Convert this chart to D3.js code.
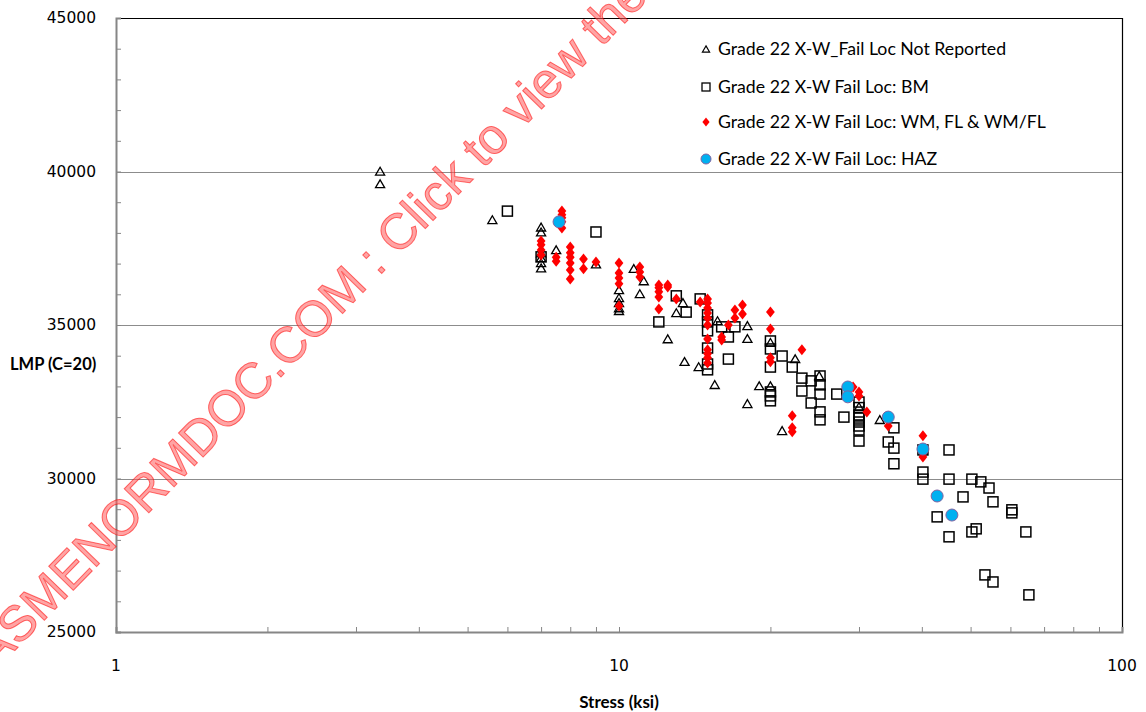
<!DOCTYPE html>
<html>
<head>
<meta charset="utf-8">
<script src="https://cdn.jsdelivr.net/npm/d3@7"></script>
<style>
  html, body { margin: 0; padding: 0; background: #fff; }
  svg { display: block; }
</style>
</head>
<body>
<svg id="chart" width="1146" height="712"></svg>
<script>
// Creep-rupture data, Grade 22 cross-weld specimens: [stress (ksi), LMP (C=20)]
const notReported = [
  [3.35, 40000], [3.35, 39590],
  [5.6, 38420],
  [7.0, 38180], [7.0, 38020], [7.0, 37340], [7.0, 37180], [7.0, 37020], [7.0, 36850],
  [7.5, 37440],
  [9.0, 36980],
  [10.0, 36140], [10.0, 35880], [10.0, 35720], [10.0, 35550], [10.0, 35460],
  [10.7, 36830], [11.2, 36430], [11.0, 36010],
  [13.4, 35720], [13.0, 35390], [12.5, 34540], [13.5, 33800], [14.4, 33630], [15.5, 33050],
  [15.7, 35130], [18.0, 34970], [18.0, 34550], [18.0, 32430], [19.0, 33010],
  [20.0, 33010], [20.0, 34420], [21.1, 31550], [22.4, 33890],
  [25.0, 33340], [30.0, 32330], [33.0, 31910]
];

const baseMetal = [
  [6.0, 38710], [9.0, 38030], [7.0, 37220],
  [12.0, 35100], [13.0, 35950], [13.6, 35420], [14.5, 35850],
  [15.0, 35330], [15.0, 35100], [15.0, 34810], [15.0, 34250], [15.0, 33730], [15.0, 33540],
  [16.0, 34940], [16.5, 34610], [17.0, 34940], [16.5, 33890],
  [20.0, 34480], [20.0, 34220], [20.0, 33630], [20.0, 32820], [20.0, 32690], [20.0, 32530],
  [21.1, 33990], [22.1, 33630], [23.1, 33270], [23.1, 32850], [24.1, 33180], [24.1, 32460],
  [25.1, 33340], [25.1, 33050], [25.1, 32750], [25.1, 32170], [25.1, 31910],
  [27.1, 32750], [28.0, 32000],
  [30.0, 32490], [30.0, 32310], [30.0, 32070], [30.0, 31970], [30.0, 31840], [30.0, 31710], [30.0, 31580], [30.0, 31220],
  [34.3, 31190], [35.2, 31650], [35.2, 30990], [35.2, 30480],
  [40.2, 30930], [40.2, 30210], [40.2, 29980],
  [45.3, 30930], [45.3, 29980], [50.3, 29980], [52.4, 29890], [54.4, 29690], [48.3, 29400], [55.4, 29240],
  [60.4, 28980], [60.4, 28880], [42.9, 28750], [50.3, 28260], [51.3, 28360], [64.4, 28260], [45.3, 28100],
  [53.4, 26860], [55.4, 26630], [65.3, 26210]
];

const weldFusion = [
  [7.7, 38710], [7.7, 38590], [7.7, 38490], [7.7, 38360], [7.7, 38160],
  [7.0, 37740], [7.0, 37610], [7.0, 37440], [7.0, 37280],
  [7.5, 37210], [7.5, 37080],
  [8.0, 37540], [8.0, 37350], [8.0, 37210], [8.0, 37020], [8.0, 36790], [8.0, 36500],
  [8.5, 37150], [8.5, 36830],
  [9.0, 37050],
  [10.0, 37020], [10.0, 36690], [10.0, 36530], [10.0, 36340], [10.0, 35620],
  [11.0, 36890], [11.0, 36730], [11.0, 36560],
  [12.0, 36300], [12.0, 36210], [12.0, 36080], [12.0, 35910], [12.0, 35520],
  [12.5, 36300], [12.5, 36240],
  [13.0, 35850], [14.5, 35750],
  [15.0, 35850], [15.0, 35720], [15.0, 35550], [15.0, 35390], [15.0, 35230], [15.0, 35000],
  [15.0, 34540], [15.0, 34190], [15.0, 34060], [15.0, 33930], [15.0, 33760],
  [16.0, 34610], [16.0, 34510], [16.5, 35000], [17.0, 35490], [17.0, 35230], [17.6, 35650], [17.6, 35360],
  [20.0, 35420], [20.0, 34870], [20.0, 33930], [20.0, 33800],
  [22.1, 32040], [22.1, 31650], [22.1, 31520], [23.1, 34190],
  [29.2, 32980], [30.0, 32820], [30.0, 32690], [31.1, 32170], [34.3, 31710],
  [40.2, 31390], [40.2, 30700]
];

const haz = [
  [7.6, 38360], [28.5, 32980], [28.5, 32660], [34.3, 32000], [40.2, 30960], [42.9, 29430], [45.9, 28810]
];

const seriesLabels = [
  "Grade 22 X-W_Fail Loc Not Reported",
  "Grade 22 X-W Fail Loc: BM",
  "Grade 22 X-W Fail Loc: WM, FL & WM/FL",
  "Grade 22 X-W Fail Loc: HAZ"
];

const xTickValues = [1, 10, 100];
const yTickValues = [25000, 30000, 35000, 40000, 45000];
const xTitle = "Stress (ksi)";
const yTitle = "LMP (C=20)";
const watermark = "ASMENORMDOC.COM : Click to view the full document";

const svg = d3.select("#chart");
const W = 1146, H = 712;
const plot = { left: 116, right: 1122, top: 18, bottom: 632 };

svg.append("rect").attr("width", W).attr("height", H).attr("fill", "#fff");

const x = d3.scaleLog().domain([1, 100]).range([plot.left, plot.right]);
const y = d3.scaleLinear().domain([25000, 45000]).range([plot.bottom, plot.top]);

const tickFont = "'DejaVu Sans', Verdana, sans-serif";
const textFont = "Lato, 'Open Sans', sans-serif";

// horizontal gridlines
svg.append("g")
  .selectAll("line")
  .data([30000, 35000, 40000])
  .join("line")
  .attr("x1", plot.left).attr("x2", plot.right)
  .attr("y1", d => Math.round(y(d)) + 0.5).attr("y2", d => Math.round(y(d)) + 0.5)
  .attr("stroke", "#8c8c8c").attr("stroke-width", 1);

// plot frame: top and right edges
svg.append("path")
  .attr("d", `M${plot.left},${plot.top + 0.5}H${plot.right + 0.5}V${plot.bottom}`)
  .attr("fill", "none").attr("stroke", "#000").attr("stroke-width", 1.2);

// y axis with minor ticks every 1000 pointing into the plot
const yMinor = d3.range(25000, 45001, 1000);
const yAxis = svg.append("g").attr("transform", `translate(${plot.left},0)`);
yAxis.call(d3.axisRight(y).tickValues(yMinor).tickSize(5).tickFormat(""));
yAxis.select(".domain").attr("stroke", "#868686").attr("stroke-width", 2);
yAxis.selectAll(".tick line").attr("stroke", "#868686");
svg.append("g")
  .selectAll("text")
  .data(yTickValues)
  .join("text")
  .attr("x", 96).attr("y", d => y(d) + 5)
  .attr("text-anchor", "end")
  .attr("font-family", tickFont).attr("font-size", 15.5)
  .attr("fill", "#000")
  .text(d => d);

// x axis (log) with minor ticks pointing up into the plot
const xMinor = [];
for (let dec = 1; dec < 100; dec *= 10) for (let k = 1; k < 10; k++) xMinor.push(dec * k);
xMinor.push(100);
const xAxis = svg.append("g").attr("transform", `translate(0,${plot.bottom})`);
xAxis.call(d3.axisTop(x).tickValues(xMinor).tickSize(5).tickFormat(""));
xAxis.select(".domain").attr("stroke", "#868686").attr("stroke-width", 2);
xAxis.selectAll(".tick line").attr("stroke", "#868686");
svg.append("g")
  .selectAll("text")
  .data(xTickValues)
  .join("text")
  .attr("x", d => x(d)).attr("y", plot.bottom + 39)
  .attr("text-anchor", "middle")
  .attr("font-family", tickFont).attr("font-size", 15.5)
  .attr("fill", "#000")
  .text(d => d);

// axis titles
svg.append("text")
  .attr("x", 619).attr("y", 708)
  .attr("text-anchor", "middle")
  .attr("font-family", textFont).attr("font-weight", "bold").attr("font-size", 17)
  .text(xTitle);
svg.append("text")
  .attr("x", 10).attr("y", 370)
  .attr("font-family", textFont).attr("font-weight", "bold").attr("font-size", 16.5)
  .text(yTitle);

// marker shapes
const tri = d3.symbol().type(d3.symbolTriangle).size(36);
const diamond = s => `M0,${-s}L${s * 0.8},0L0,${s}L${-s * 0.8},0Z`;

const marks = svg.append("g");

// not reported: open triangles
marks.append("g")
  .selectAll("path")
  .data(notReported)
  .join("path")
  .attr("transform", d => `translate(${x(d[0])},${y(d[1]) + 1})`)
  .attr("d", tri())
  .attr("fill", "none").attr("stroke", "#000").attr("stroke-width", 1.3);

// base metal: open squares
marks.append("g")
  .selectAll("rect")
  .data(baseMetal)
  .join("rect")
  .attr("x", d => x(d[0]) - 5).attr("y", d => y(d[1]) - 5)
  .attr("width", 10).attr("height", 10)
  .attr("fill", "none").attr("stroke", "#000").attr("stroke-width", 1.5);

// weld metal / fusion line: red diamonds
marks.append("g")
  .selectAll("path")
  .data(weldFusion)
  .join("path")
  .attr("transform", d => `translate(${x(d[0])},${y(d[1])})`)
  .attr("d", diamond(5.5))
  .attr("fill", "#ff0000");

// HAZ: blue circles
marks.append("g")
  .selectAll("circle")
  .data(haz)
  .join("circle")
  .attr("cx", d => x(d[0])).attr("cy", d => y(d[1]))
  .attr("r", 6)
  .attr("fill", "#00b0f0").attr("stroke", "#8064a2").attr("stroke-width", 1);

// legend
const legend = svg.append("g").attr("transform", "translate(706,0)");
const rowY = [49, 87, 122, 159];
legend.append("path").attr("transform", `translate(0,${rowY[0] + 1})`)
  .attr("d", d3.symbol().type(d3.symbolTriangle).size(22)())
  .attr("fill", "none").attr("stroke", "#000").attr("stroke-width", 1.2);
legend.append("rect").attr("x", -4).attr("y", rowY[1] - 4).attr("width", 8).attr("height", 8)
  .attr("fill", "none").attr("stroke", "#000").attr("stroke-width", 1.3);
legend.append("path").attr("transform", `translate(0,${rowY[2]})`).attr("d", diamond(4.5)).attr("fill", "#ff0000");
legend.append("circle").attr("cx", 0).attr("cy", rowY[3]).attr("r", 5)
  .attr("fill", "#00b0f0").attr("stroke", "#8064a2").attr("stroke-width", 1);
legend.selectAll("text.lbl")
  .data(seriesLabels)
  .join("text")
  .attr("class", "lbl")
  .attr("x", 12).attr("y", (d, i) => rowY[i] + 6)
  .attr("font-family", textFont).attr("font-size", 17.7)
  .attr("fill", "#000")
  .text(d => d);

// site watermark across the upper left
svg.append("text")
  .attr("transform", "translate(-5,671) rotate(-45.8)")
  .attr("font-family", "'Liberation Sans', Arial, sans-serif")
  .attr("font-size", 50)
  .attr("fill", "rgba(255,90,90,0.55)")
  .attr("stroke", "rgba(255,0,0,0.55)")
  .attr("stroke-width", 1)
  .text(watermark);
</script>
</body>
</html>
